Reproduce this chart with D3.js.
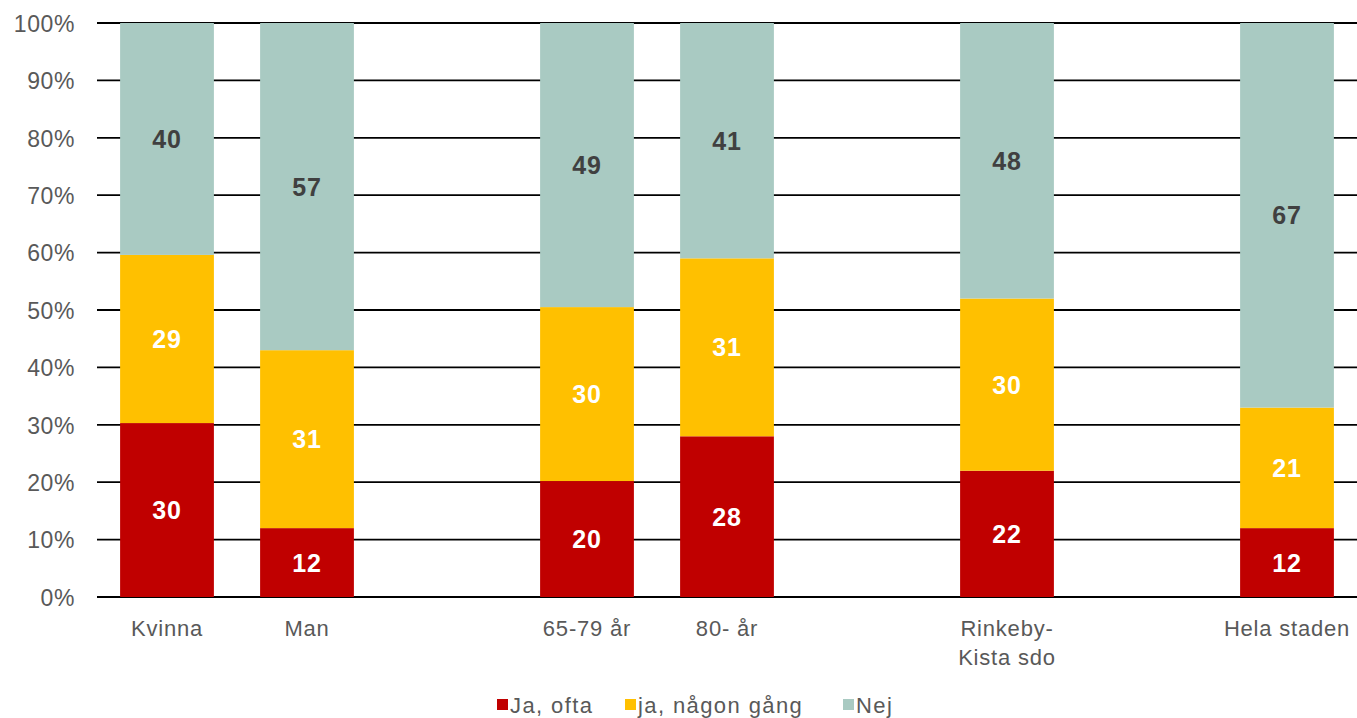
<!DOCTYPE html>
<html>
<head>
<meta charset="utf-8">
<script src="https://cdn.jsdelivr.net/npm/d3@7"></script>
<style>
  body { margin: 0; background: #fff; }
  text { font-family: "Liberation Sans", Arial, sans-serif; }
</style>
</head>
<body>
<svg id="chart" width="1357" height="718"></svg>
<script>
// Categories, empty strings are spacer slots between groups
const categories = ['Kvinna', 'Man', '', '65-79 år', '80- år', '', 'Rinkeby-\nKista sdo', '', 'Hela staden'];
const seriesNames = ['Ja, ofta', 'ja, någon gång', 'Nej'];
const jaOfta = [30, 12, null, 20, 28, null, 22, null, 12];
const jaNagonGang = [29, 31, null, 30, 31, null, 30, null, 21];
const nej = [40, 57, null, 49, 41, null, 48, null, 67];
const yTicks = [0, 0.1, 0.2, 0.3, 0.4, 0.5, 0.6, 0.7, 0.8, 0.9, 1];

const colors = ['#C00000', '#FFC000', '#A9CAC2'];
const labelColors = ['#fff', '#fff', '#404040'];

const margin = { top: 23, left: 97, right: 0, bottom: 121 };
const width = 1357 - margin.left - margin.right;
const height = 718 - margin.top - margin.bottom;

const svg = d3.select('#chart');
const g = svg.append('g').attr('transform', `translate(${margin.left},${margin.top})`);

const rows = categories.map((c, i) => ({
  idx: i,
  name: c,
  s0: jaOfta[i],
  s1: jaNagonGang[i],
  s2: nej[i]
}));
const filled = rows.filter(d => d.s0 != null);

const x = d3.scaleBand()
  .domain(rows.map(d => d.idx))
  .range([0, width])
  .paddingInner(0.33)
  .paddingOuter(0.165);

const y = d3.scaleLinear().domain([0, 1]).range([height, 0]);

// Gridlines
g.append('g')
  .selectAll('line')
  .data(yTicks)
  .join('line')
  .attr('x1', 0)
  .attr('x2', width)
  .attr('y1', d => y(d))
  .attr('y2', d => y(d))
  .attr('stroke', '#000')
  .attr('stroke-width', 1.8);

// Y axis labels
const yAxis = g.append('g')
  .call(d3.axisLeft(y).tickValues(yTicks).tickFormat(d3.format('.0%')).tickSize(0).tickPadding(22));
yAxis.select('.domain').remove();
yAxis.selectAll('text')
  .attr('fill', '#595959')
  .attr('dy', '0.36em')
  .style('font-size', '23px')
  .style('letter-spacing', '0.6px')
  .style('font-family', '"Liberation Sans", Arial, sans-serif');

// Stacked bars
const stack = d3.stack()
  .keys(['s0', 's1', 's2'])
  .offset(d3.stackOffsetExpand);
const stacked = stack(filled);

const layers = g.append('g')
  .selectAll('g.layer')
  .data(stacked)
  .join('g')
  .attr('class', 'layer')
  .attr('fill', (d, i) => colors[i]);

layers.selectAll('rect')
  .data(d => d)
  .join('rect')
  .attr('x', d => x(d.data.idx))
  .attr('width', x.bandwidth())
  .attr('y', d => y(d[1]))
  .attr('height', d => y(d[0]) - y(d[1]));

layers.each(function(layer, li) {
  d3.select(this)
    .selectAll('text')
    .data(layer)
    .join('text')
    .attr('x', d => x(d.data.idx) + x.bandwidth() / 2)
    .attr('y', d => y((d[0] + d[1]) / 2) + 9)
    .attr('text-anchor', 'middle')
    .attr('fill', labelColors[li])
    .style('font-size', '25px')
    .style('font-weight', 'bold')
    .style('letter-spacing', '0.8px')
    .text(d => d.data[layer.key]);
});

// Category labels
const cat = g.append('g')
  .selectAll('text')
  .data(filled)
  .join('text')
  .attr('x', d => x(d.idx) + x.bandwidth() / 2)
  .attr('y', height + 39)
  .attr('text-anchor', 'middle')
  .attr('fill', '#595959')
  .style('font-size', '22px')
  .style('letter-spacing', '0.8px');
cat.selectAll('tspan')
  .data(d => d.name.split('\n'))
  .join('tspan')
  .attr('x', function() { return d3.select(this.parentNode).attr('x'); })
  .attr('dy', (d, i) => (i === 0 ? 0 : 29))
  .text(d => d);

// Legend
const legend = svg.append('g').attr('transform', 'translate(497,705)');
const legendOffsets = [0, 128, 346];
const items = legend.selectAll('g')
  .data(seriesNames)
  .join('g')
  .attr('transform', (d, i) => `translate(${legendOffsets[i]},0)`);
items.append('rect')
  .attr('x', 0)
  .attr('y', -6)
  .attr('width', 11)
  .attr('height', 11)
  .attr('fill', (d, i) => colors[i]);
items.append('text')
  .attr('x', 13)
  .attr('y', 8)
  .attr('fill', '#595959')
  .style('font-size', '22px')
  .style('letter-spacing', '1.4px')
  .text(d => d);
</script>
</body>
</html>
